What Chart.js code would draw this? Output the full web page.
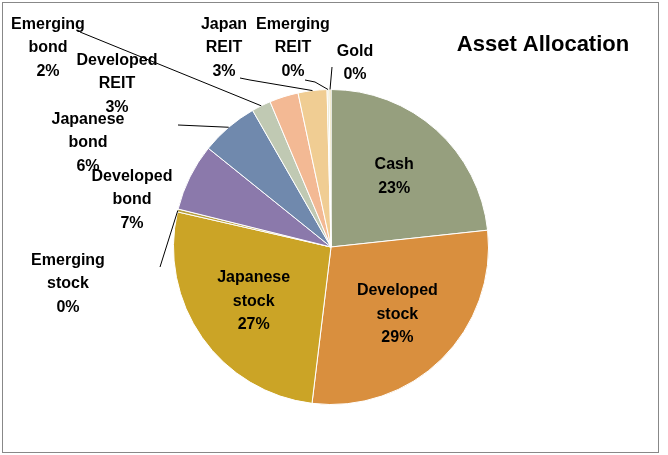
<!DOCTYPE html>
<html><head><meta charset="utf-8">
<script src="https://cdn.jsdelivr.net/npm/chart.js@4"></script>
<style>body{margin:0;background:#fff}#wrap{position:relative;width:668px;height:455px}</style>
</head><body><div id="wrap"><canvas id="chart"></canvas></div>
<script>
const categories = ['Cash', 'Developed stock', 'Japanese stock', 'Emerging stock', 'Developed bond', 'Japanese bond', 'Emerging bond', 'Developed REIT', 'Japan REIT', 'Emerging REIT', 'Gold']
const values = [23.6, 29, 27, 0.3, 7, 6, 2, 3, 3, 0.2, 0.2]
const labelLines = [['Cash', '23%'], ['Developed', 'stock', '29%'], ['Japanese', 'stock', '27%'], ['Emerging', 'stock', '0%'], ['Developed', 'bond', '7%'], ['Japanese', 'bond', '6%'], ['Emerging', 'bond', '2%'], ['Developed', 'REIT', '3%'], ['Japan', 'REIT', '3%'], ['Emerging', 'REIT', '0%'], ['Gold', '0%']]
const colors = ['#969f7e', '#d98f3e', '#cba426', '#b8a040', '#8b79ab', '#7089ad', '#c0c9b3', '#f3b994', '#f0cd93', '#e5e0c0', '#e8d8a0']

// outside labels: text centre and leader anchor (null = inside slice)
const outside = [null, null, null,
    {x: 68, y: 284, ax: 160, ay: 267},
    null,
    {x: 88, y: 143, ax: 178, ay: 125},
    {x: 48, y: 48, ax: 80, ay: 32},
    {x: 117, y: 84, ax: null},
    {x: 224, y: 48, ax: 240, ay: 78},
    {x: 293, y: 48, ax: 305, ay: 80},
    {x: 355, y: 63, ax: 332, ay: 67}]

const labelPlugin = {
    id: 'labels',
    afterDatasetsDraw(chart) {
        const ctx = chart.ctx
        const arcs = chart.getDatasetMeta(0).data
        ctx.save()
        ctx.font = 'bold 16px "Liberation Sans", Arial, sans-serif'
        ctx.textAlign = 'center'
        ctx.textBaseline = 'middle'
        arcs.forEach((arc, i) => {
            const p = arc.getProps(['x', 'y', 'startAngle', 'endAngle', 'outerRadius'], true)
            const mid = (p.startAngle + p.endAngle) / 2
            let tx, ty
            const o = outside[i]
            if (!o) {
                const r = p.outerRadius * 0.6
                tx = p.x + Math.cos(mid) * r
                ty = p.y + Math.sin(mid) * r
                if (i === 4) { tx = 132; ty = 200 }
            } else {
                tx = o.x; ty = o.y
                if (o.ax !== null) {
                    const ex = p.x + Math.cos(mid) * p.outerRadius
                    const ey = p.y + Math.sin(mid) * p.outerRadius
                    ctx.strokeStyle = '#000'
                    ctx.lineWidth = 1
                    ctx.beginPath()
                    ctx.moveTo(o.ax, o.ay)
                    if (i === 8 || i === 9) ctx.lineTo(o.ax + 10, o.ay + 2)
                    ctx.lineTo(ex, ey)
                    ctx.stroke()
                }
            }
            const lines = labelLines[i]
            const lh = 23.5
            ctx.fillStyle = '#000'
            lines.forEach((t, k) => ctx.fillText(t, tx, ty + (k - (lines.length - 1) / 2) * lh))
        })
        ctx.font = 'bold 22px "Liberation Sans", Arial, sans-serif'
        ctx.fillText('Asset Allocation', 543, 45)
        ctx.strokeStyle = '#888'
        ctx.strokeRect(2.5, 2.5, 656, 450)
        ctx.restore()
    }
}

const context = document.getElementById('chart').getContext('2d')
const chart = new Chart(context, {
    type: 'pie',
    data: {
        labels: categories,
        datasets: [{
            data: values,
            backgroundColor: colors,
            borderColor: '#fff',
            borderWidth: 1
        }]
    },
    options: {
        responsive: true,
        maintainAspectRatio: false,
        animation: false,
        layout: {padding: {left: 0, right: 6, top: 89, bottom: 50}},
        plugins: {
            legend: {display: false},
            tooltip: {enabled: false}
        }
    },
    plugins: [labelPlugin]
})
</script></body></html>
